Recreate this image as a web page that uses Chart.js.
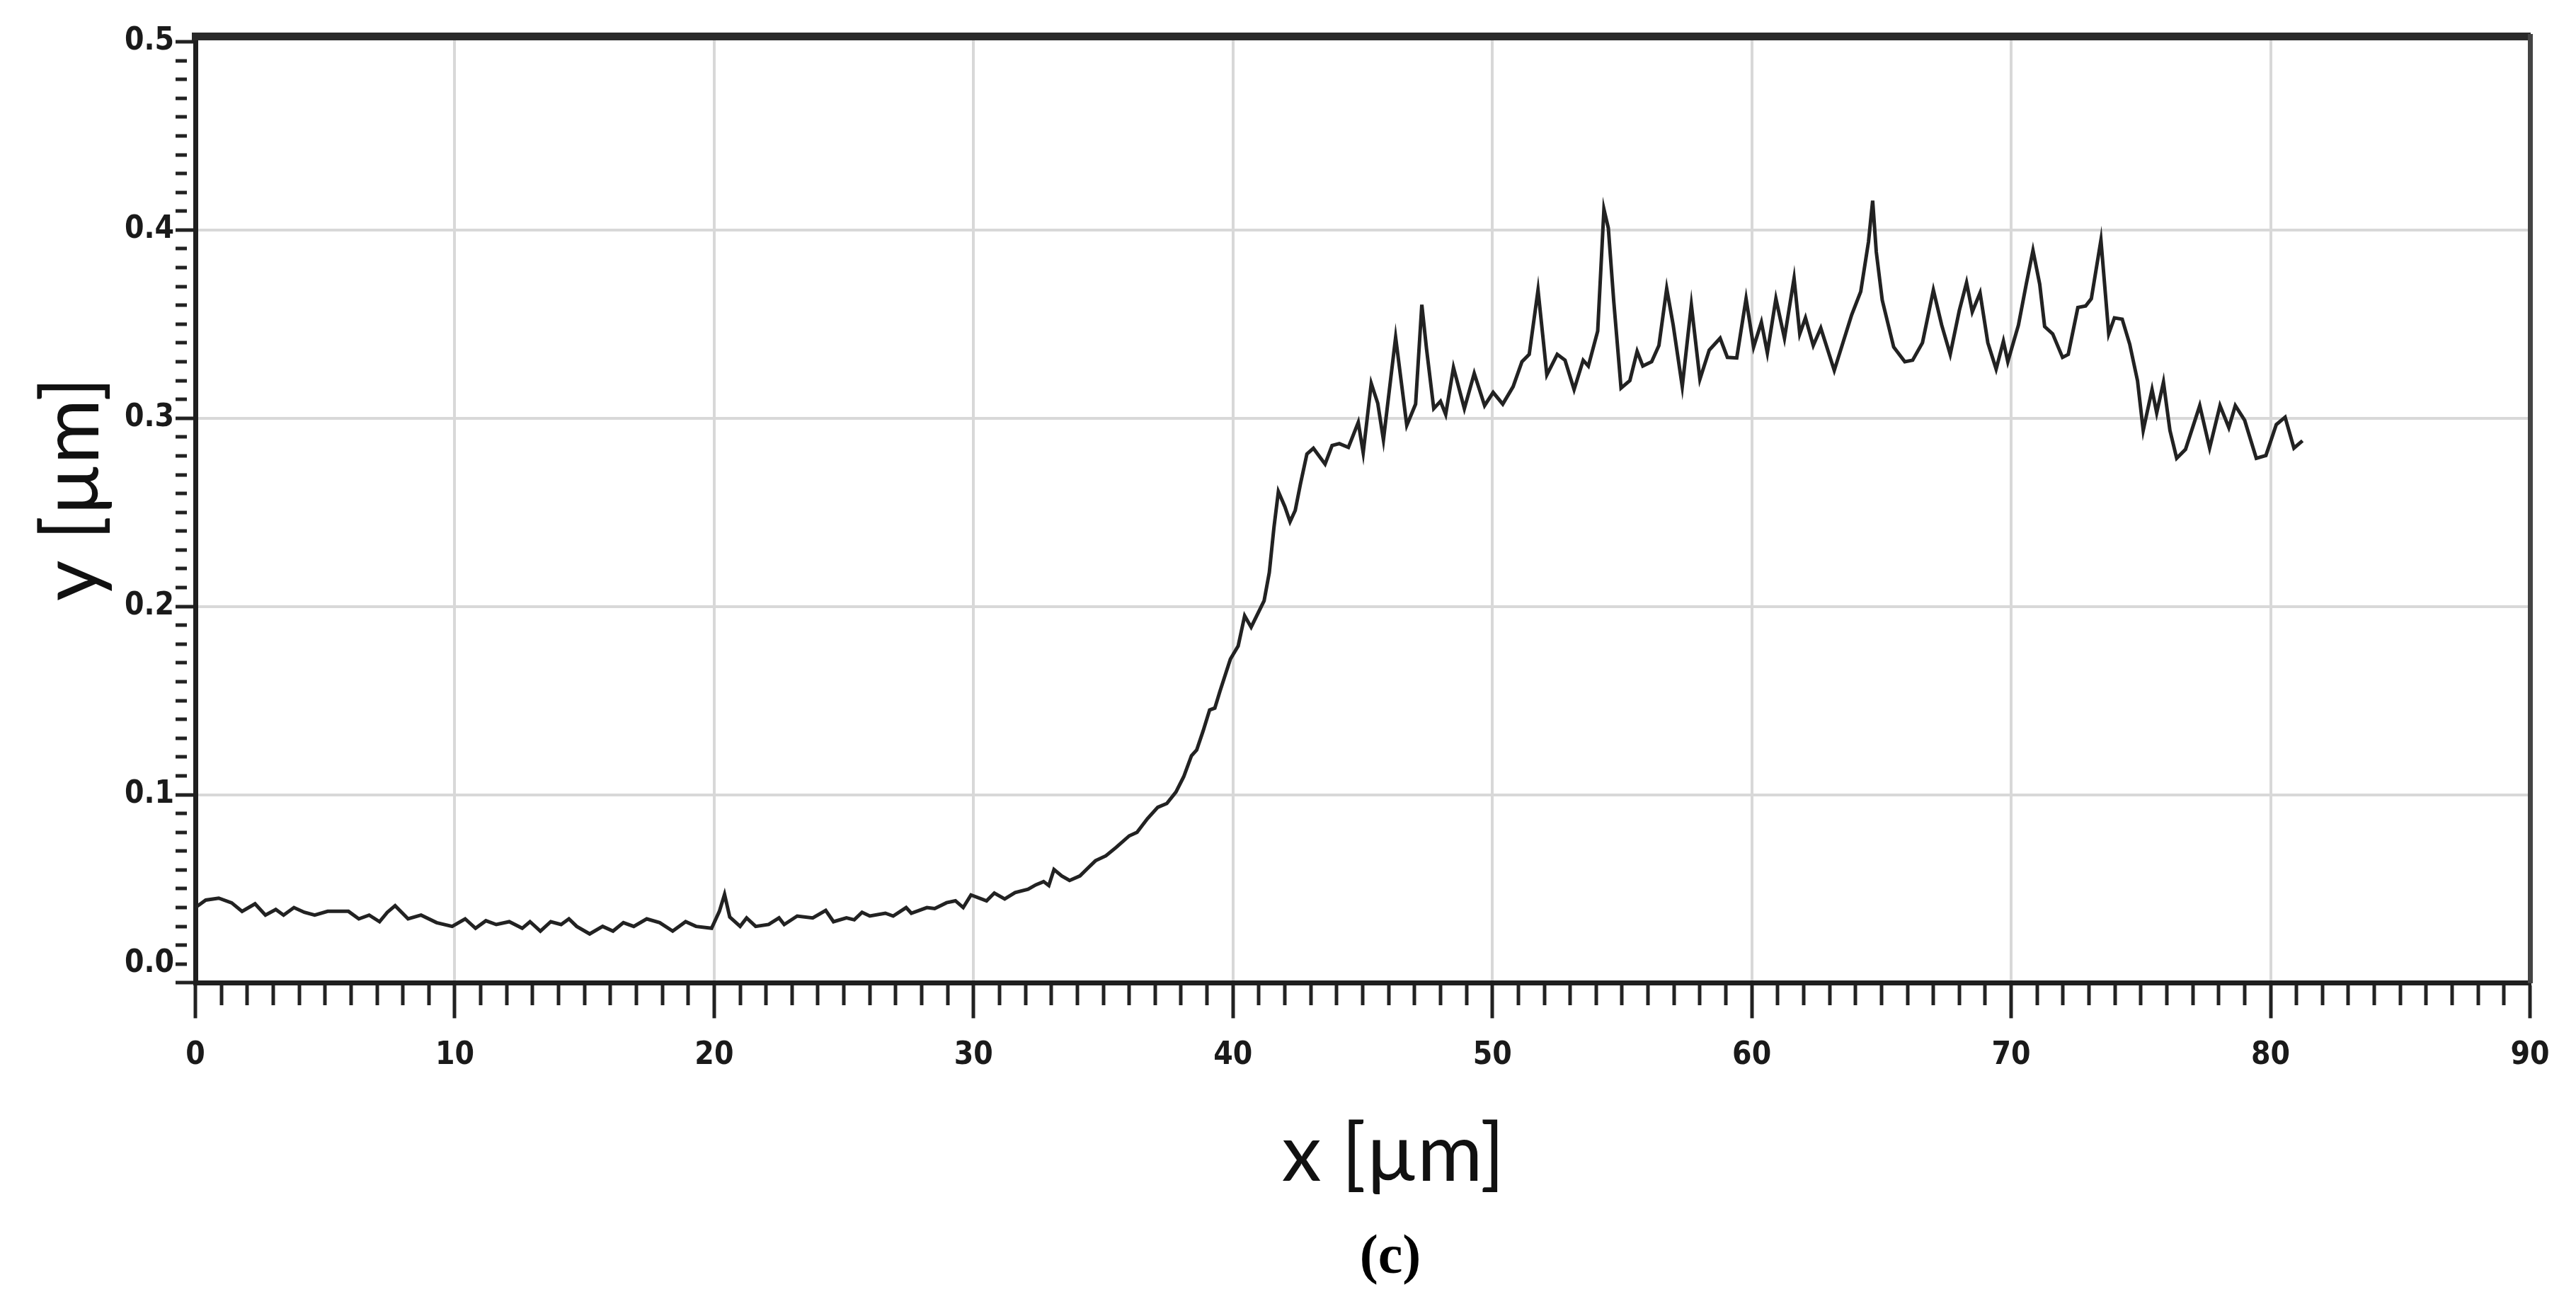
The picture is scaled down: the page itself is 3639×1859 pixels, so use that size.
<!DOCTYPE html>
<html>
<head>
<meta charset="utf-8">
<script src="https://cdn.jsdelivr.net/npm/chart.js@4.4.1/dist/chart.umd.min.js"></script>
<style>
html, body { margin: 0; padding: 0; background: #fff; }
#wrap { width: 3639px; height: 1859px; }
</style>
</head>
<body>
<div id="wrap"><canvas id="profileChart" width="3639" height="1859"></canvas></div>
<script>
// profile data (x in µm, y in µm)
const xValues = [
  0.0, 0.4, 0.9, 1.4, 1.8, 2.3, 2.7, 3.1, 3.4, 3.8, 4.2, 4.6, 5.1, 5.9, 6.3, 6.7, 7.1, 7.4, 7.7, 8.2,
  8.7, 9.3, 9.9, 10.4, 10.8, 11.2, 11.6, 12.1, 12.6, 12.9, 13.3, 13.7, 14.1, 14.4, 14.7, 15.2, 15.7, 16.1, 16.5, 16.9,
  17.4, 17.9, 18.4, 18.9, 19.3, 19.9, 20.2, 20.4, 20.6, 21.0, 21.25, 21.6, 22.1, 22.5, 22.7, 23.2, 23.8, 24.3, 24.6, 25.1,
  25.4, 25.7, 26.0, 26.6, 26.9, 27.4, 27.6, 28.2, 28.5, 28.96, 29.3, 29.6, 29.9, 30.5, 30.8, 31.2, 31.6, 32.1, 32.4, 32.7,
  32.9, 33.1, 33.4, 33.7, 34.1, 34.4, 34.7, 35.1, 35.5, 36.0, 36.3, 36.7, 37.1, 37.45, 37.8, 38.1, 38.4, 38.6, 38.85, 39.1,
  39.3, 39.5, 39.9, 40.2, 40.45, 40.7, 41.2, 41.4, 41.58, 41.75, 42.0, 42.2, 42.4, 42.6, 42.85, 43.1, 43.55, 43.82, 44.1, 44.45,
  44.83, 45.02, 45.33, 45.58, 45.8, 46.27, 46.7, 47.04, 47.28, 47.46, 47.74, 48.0, 48.2, 48.5, 48.92, 49.3, 49.7, 50.03, 50.4, 50.8,
  51.14, 51.42, 51.76, 52.1, 52.5, 52.8, 53.15, 53.5, 53.7, 54.06, 54.3, 54.47, 54.68, 54.96, 55.3, 55.58, 55.8, 56.14, 56.42, 56.72,
  56.97, 57.32, 57.67, 58.0, 58.36, 58.78, 59.06, 59.42, 59.78, 60.07, 60.37, 60.6, 60.93, 61.26, 61.63, 61.85, 62.07, 62.37, 62.66, 63.18,
  63.85, 64.2, 64.5, 64.66, 64.8, 65.03, 65.47, 65.9, 66.2, 66.58, 67.0, 67.32, 67.65, 68.0, 68.28, 68.5, 68.8, 69.1, 69.42, 69.7,
  69.87, 70.28, 70.58, 70.84, 71.1, 71.29, 71.6, 71.98, 72.2, 72.57, 72.87, 73.09, 73.46, 73.76, 73.98, 74.28, 74.57, 74.87, 75.09, 75.43,
  75.61, 75.87, 76.12, 76.38, 76.72, 77.27, 77.65, 78.05, 78.39, 78.64, 79.0, 79.45, 79.82, 80.22, 80.56, 80.9, 81.23
];
const yValues = [
  0.040, 0.044, 0.045, 0.0425, 0.038, 0.042, 0.036, 0.039, 0.036, 0.040, 0.0375, 0.036, 0.038, 0.038, 0.034, 0.036, 0.0325, 0.0375, 0.041, 0.034,
  0.036, 0.032, 0.030, 0.034, 0.029, 0.033, 0.031, 0.0325, 0.029, 0.0325, 0.0275, 0.0325, 0.031, 0.034, 0.030, 0.026, 0.030, 0.0275, 0.032, 0.030,
  0.034, 0.032, 0.0275, 0.0325, 0.030, 0.029, 0.038, 0.047, 0.035, 0.030, 0.0345, 0.030, 0.031, 0.0345, 0.031, 0.0355, 0.0345, 0.0385, 0.0325, 0.0345,
  0.0335, 0.0375, 0.0355, 0.037, 0.0355, 0.040, 0.037, 0.040, 0.0395, 0.0426, 0.0436, 0.040, 0.0467, 0.0436, 0.0477, 0.0446, 0.048, 0.0497, 0.0521, 0.0538,
  0.0517, 0.0602, 0.0568, 0.0544, 0.0568, 0.0609, 0.0649, 0.0675, 0.072, 0.0781, 0.080, 0.0872, 0.0933, 0.0953, 0.1014, 0.1095, 0.1207, 0.1237, 0.1339, 0.145,
  0.146, 0.155, 0.172, 0.179, 0.195, 0.189, 0.203, 0.218, 0.242, 0.261, 0.253, 0.245, 0.251, 0.265, 0.281, 0.284, 0.2756, 0.2855, 0.2865, 0.2845,
  0.2978, 0.2816, 0.3185, 0.308, 0.2885, 0.343, 0.2962, 0.3075, 0.3603, 0.337, 0.3051, 0.309, 0.302, 0.3269, 0.3051, 0.3238, 0.3067, 0.3137, 0.3075, 0.3168,
  0.330, 0.3339, 0.3681, 0.323, 0.3339, 0.3308, 0.3152, 0.3308, 0.3277, 0.3463, 0.411, 0.401, 0.3619, 0.316, 0.320, 0.3355, 0.3277, 0.330, 0.3386, 0.3689,
  0.3495, 0.3168, 0.3603, 0.3207, 0.3362, 0.3425, 0.3323, 0.332, 0.3635, 0.3378, 0.351, 0.3347, 0.3635, 0.3425, 0.3743, 0.3448, 0.3533, 0.3386, 0.3479, 0.3254,
  0.3549, 0.3673, 0.3938, 0.4156, 0.3883, 0.3627, 0.3378, 0.330, 0.3308, 0.3401, 0.3681, 0.3495, 0.3339, 0.3572, 0.372, 0.3565, 0.3666, 0.3401, 0.3261, 0.3409,
  0.330, 0.3495, 0.3712, 0.3891, 0.3712, 0.3487, 0.3448, 0.3323, 0.3339, 0.3588, 0.3596, 0.3635, 0.3946, 0.3448, 0.3533, 0.3526, 0.3393, 0.3199, 0.2935, 0.3152,
  0.3028, 0.3191, 0.2935, 0.2787, 0.2834, 0.3067, 0.2841, 0.3067, 0.295, 0.3067, 0.2989, 0.2787, 0.2802, 0.2966, 0.3005, 0.2841, 0.288
];

// axis ticks
const xMajorTicks = [0, 10, 20, 30, 40, 50, 60, 70, 80, 90];
const xTickLabels = ["0", "10", "20", "30", "40", "50", "60", "70", "80", "90"];
const yMajorTicks = [0, 0.1, 0.2, 0.3, 0.4, 0.5];
// the 0.0 label sits a bit above the axis in the original, hence the empty 2nd line
const yTickLabels = [["0.0", ""], "0.1", "0.2", "0.3", "0.4", "0.5"];

const xTitle = "   x [\u00b5m]";
const yTitle = "  y [\u00b5m]";
const panelLabel = "    (c)";

function majorIndex(list, v){
    return list.findIndex(m => Math.abs(m - v) < 1e-6);
}

function tickVal(c){
    return c.tick ? c.tick.value : NaN;
}

const tickFont = { family: "'Liberation Sans Narrow', 'DejaVu Sans Condensed', 'Liberation Sans', sans-serif", size: 44, weight: "bold" };
const titleFont = { family: "Lato, 'Open Sans', sans-serif", size: 112 };

const points = xValues.map((x, i) => ({ x: x, y: yValues[i] }));

const ctx = document.getElementById("profileChart").getContext("2d");

new Chart(ctx, {
    type: "line",
    data: {
        datasets: [{
            data: points,
            borderColor: "#222",
            borderWidth: 5,
            pointRadius: 0,
            tension: 0,
            fill: false
        }]
    },
    options: {
        responsive: false,
        animation: false,
        devicePixelRatio: 1,
        layout: { padding: { top: 51, right: 65, bottom: 0, left: 0 } },
        plugins: {
            legend: { display: false },
            tooltip: { enabled: false },
            title: {
                display: true,
                position: "bottom",
                fullSize: false,
                text: panelLabel,
                color: "#000",
                font: { family: "'Liberation Serif', 'DejaVu Serif', serif", size: 78, weight: "bold" },
                padding: { top: 32, bottom: 34 }
            }
        },
        scales: {
            x: {
                type: "linear",
                position: "bottom",
                min: 0,
                max: 90,
                afterFit: s => { s.height = 311; },
                ticks: {
                    stepSize: 1,
                    autoSkip: false,
                    maxRotation: 0,
                    padding: 27,
                    color: "#1a1a1a",
                    font: tickFont,
                    callback: v => {
                        const i = majorIndex(xMajorTicks, v);
                        return i < 0 ? "" : xTickLabels[i];
                    }
                },
                grid: {
                    color: c => majorIndex(xMajorTicks, tickVal(c)) >= 0 ? "#d8d8d8" : "rgba(0,0,0,0)",
                    lineWidth: c => majorIndex(xMajorTicks, tickVal(c)) >= 0 ? 4 : 0,
                    tickColor: "#222",
                    tickWidth: 5,
                    tickLength: 50,
                    tickBorderDash: c => majorIndex(xMajorTicks, tickVal(c)) >= 0 ? [] : [28, 200]
                },
                border: { display: true, color: "#1f1f1f", width: 7 },
                title: {
                    display: true,
                    text: xTitle,
                    color: "#111",
                    font: titleFont,
                    padding: { top: 0, bottom: 0 }
                }
            },
            y: {
                type: "linear",
                position: "left",
                min: 0,
                max: 0.503,
                afterFit: s => { s.width = 276; },
                ticks: {
                    stepSize: 0.01,
                    includeBounds: false,
                    autoSkip: false,
                    padding: 2,
                    color: "#1a1a1a",
                    font: tickFont,
                    callback: v => {
                        const i = majorIndex(yMajorTicks, v);
                        return i < 0 ? "" : yTickLabels[i];
                    }
                },
                grid: {
                    color: c => {
                        const i = majorIndex(yMajorTicks, tickVal(c));
                        return (i > 0 && i < yMajorTicks.length - 1) ? "#d8d8d8" : "rgba(0,0,0,0)";
                    },
                    lineWidth: c => {
                        const i = majorIndex(yMajorTicks, tickVal(c));
                        return (i > 0 && i < yMajorTicks.length - 1) ? 4 : 0;
                    },
                    tickColor: "#222",
                    tickWidth: 5,
                    tickLength: 28,
                    tickBorderDash: c => majorIndex(yMajorTicks, tickVal(c)) >= 0 ? [] : [16, 200]
                },
                border: { display: true, color: "#1f1f1f", width: 7 },
                title: {
                    display: true,
                    text: yTitle,
                    color: "#111",
                    font: titleFont,
                    padding: { top: 36, bottom: 0 }
                }
            },
            // top and right frame lines
            xTop: {
                type: "linear",
                position: "top",
                min: 0,
                max: 90,
                afterFit: s => { s.height = 0; },
                ticks: { display: false },
                grid: { display: false },
                border: { display: true, color: "#2a2a2a", width: 11 }
            },
            yRight: {
                type: "linear",
                position: "right",
                min: 0,
                max: 0.503,
                afterFit: s => { s.width = 0; },
                ticks: { display: false },
                grid: { display: false },
                border: { display: true, color: "#444", width: 7 }
            }
        }
    }
});
</script>
</body>
</html>
